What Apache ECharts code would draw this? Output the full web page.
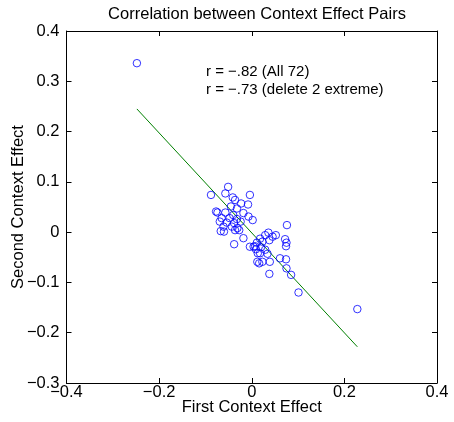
<!DOCTYPE html>
<html>
<head>
<meta charset="utf-8">
<script src="https://cdn.jsdelivr.net/npm/echarts@6/dist/echarts.min.js"></script>
<style>
  html, body { margin: 0; padding: 0; background: #fff; }
  #chart { width: 454px; height: 422px; }
</style>
</head>
<body>
<div id="chart"></div>
<script>
// first / second context effect
var firstEffect = [
  -0.088, -0.051, -0.057, -0.004, -0.041, -0.036, -0.023, -0.008, -0.045, -0.032,
  -0.077, -0.074, -0.057, -0.018, -0.040, -0.007, -0.065, -0.048, -0.032, 0.002,
  -0.069, -0.054, -0.038, -0.024, 0.076, -0.061, -0.043, -0.031, -0.067, -0.060,
  -0.036, -0.027, -0.018, 0.036, 0.029, 0.052, 0.045, 0.018, 0.038, 0.072,
  0.075, 0.023, 0.011, -0.038, 0.007, 0.074, -0.004, 0.020, 0.009, 0.029,
  0.018, 0.034, 0.061, 0.074, 0.023, 0.016, 0.039, 0.075, 0.085, 0.038,
  0.101, -0.248, 0.228, 0.013, 0.004, 0.012
];
var secondEffect = [
  0.074, 0.090, 0.077, 0.074, 0.069, 0.064, 0.057, 0.055, 0.051, 0.047,
  0.041, 0.039, 0.039, 0.038, 0.034, 0.031, 0.028, 0.028, 0.026, 0.024,
  0.021, 0.019, 0.018, 0.021, 0.014, 0.011, 0.011, 0.008, 0.002, 0.001,
  0.004, 0.004, -0.012, -0.001, -0.006, -0.006, -0.009, -0.013, -0.016, -0.014,
  -0.021, -0.019, -0.021, -0.024, -0.028, -0.028, -0.029, -0.030, -0.034, -0.035,
  -0.042, -0.043, -0.052, -0.054, -0.059, -0.062, -0.059, -0.072, -0.085, -0.083,
  -0.120, 0.336, -0.153, -0.042, -0.029, -0.059
];
// fitted line end points
var fitX = [-0.248, 0.228];
var fitY = [0.245, -0.228];

var xTicks = [-0.4, -0.2, 0, 0.2, 0.4];
var yTicks = [-0.3, -0.2, -0.1, 0, 0.1, 0.2, 0.3, 0.4];

var font = 'Liberation Sans, Arial, Helvetica, sans-serif';
var fmt = function(v){
  var s = String(Math.round(v * 10) / 10);
  return s.replace('-', '\u2212');
};

var pts = firstEffect.map(function(x, i){ return [x, secondEffect[i]]; });
var fitLine = fitX.map(function(x, i){ return [x, fitY[i]]; });

var chart = echarts.init(document.getElementById('chart'), null, {renderer: 'canvas'});

var axisBase = function(){
  return {
    axisLine: {show: true, onZero: false, lineStyle: {color: '#000', width: 1}},
    axisTick: {show: true, inside: true, length: 5, lineStyle: {color: '#000'}},
    splitLine: {show: false},
    axisLabel: {color: '#000', fontSize: 16.5, fontFamily: font, formatter: fmt}
  };
};

var xBottom = Object.assign(axisBase(), {
  type: 'value', position: 'bottom', min: xTicks[0], max: xTicks[xTicks.length - 1], interval: 0.2,
  name: 'First Context Effect', nameLocation: 'middle', nameGap: 16, nameMoveOverlap: false,
  nameTextStyle: {color: '#000', fontSize: 16.5, fontFamily: font}
});
xBottom.axisLabel.margin = 1;
var xTop = Object.assign(axisBase(), {
  type: 'value', position: 'top', min: -0.4, max: 0.4, interval: 0.2
});
xTop.axisLabel = {show: false};

var yLeft = Object.assign(axisBase(), {
  type: 'value', position: 'left', min: yTicks[0], max: yTicks[yTicks.length - 1], interval: 0.1,
  name: 'Second Context Effect', nameLocation: 'middle', nameGap: 40, nameMoveOverlap: false,
  nameTextStyle: {color: '#000', fontSize: 16.5, fontFamily: font}
});
yLeft.axisLabel.margin = 7;
var yRight = Object.assign(axisBase(), {
  type: 'value', position: 'right', min: -0.3, max: 0.4, interval: 0.1
});
yRight.axisLabel = {show: false};

chart.setOption({
  animation: false,
  backgroundColor: '#fff',
  title: {
    text: 'Correlation between Context Effect Pairs',
    left: 252, top: 1, textAlign: 'center',
    textStyle: {color: '#000', fontSize: 16.5, fontWeight: 'normal', fontFamily: font}
  },
  grid: {left: 66.5, right: 17, top: 31, bottom: 39, containLabel: false, outerBoundsMode: 'none'},
  xAxis: [xBottom, xTop],
  yAxis: [yLeft, yRight],
  graphic: [
    {type: 'text', left: 206, top: 64,
     style: {text: 'r = \u2212.82 (All 72)', fill: '#000', fontSize: 15, fontFamily: font}},
    {type: 'text', left: 206, top: 82,
     style: {text: 'r = \u2212.73 (delete 2 extreme)', fill: '#000', fontSize: 15, fontFamily: font}}
  ],
  series: [
    {
      type: 'line', data: fitLine, xAxisIndex: 0, yAxisIndex: 0,
      symbol: 'none', lineStyle: {color: '#008000', width: 1}, z: 2
    },
    {
      type: 'scatter', data: pts, xAxisIndex: 0, yAxisIndex: 0,
      symbol: 'circle', symbolSize: 7.5,
      itemStyle: {color: 'rgba(0,0,0,0)', borderColor: '#0000ff', borderWidth: 1},
      z: 3
    }
  ]
});
</script>
</body>
</html>
